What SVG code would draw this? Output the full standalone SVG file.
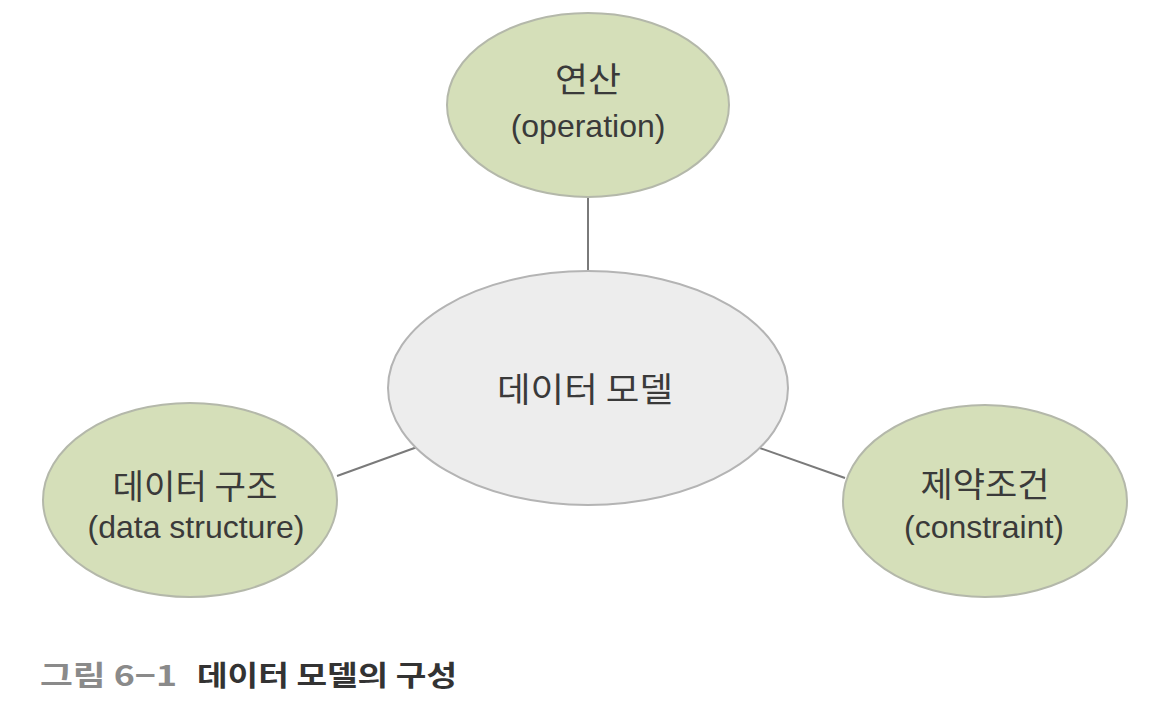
<svg xmlns="http://www.w3.org/2000/svg" width="1158" height="708" viewBox="0 0 1158 708">
<style>
.g{fill:#d5dfb9;stroke:#b4b8aa;stroke-width:2}
.c{fill:#ededed;stroke:#b4b4b4;stroke-width:2}
.t{font-family:"Liberation Sans","Noto Sans CJK KR",sans-serif;font-size:32px;fill:#3a3a3a;text-anchor:middle}
.k{font-family:"Noto Sans CJK KR",sans-serif;font-size:34px;fill:#3a3a3a;text-anchor:middle}
.ln{stroke:#7a7a7a;stroke-width:2;fill:none}
</style>
<rect width="1158" height="708" fill="#ffffff"/>
<g id="connectors">
<line class="ln" x1="588" y1="198" x2="588" y2="271"/>
<line class="ln" x1="337" y1="476" x2="420" y2="446"/>
<line class="ln" x1="757" y1="447" x2="845" y2="478"/>
</g>
<g id="node-operation">
<ellipse class="g" cx="588" cy="105" rx="141" ry="92"/>
<text class="k" x="588" y="92" textLength="66" lengthAdjust="spacingAndGlyphs">연산</text>
<text class="t" x="588" y="137">(operation)</text>
</g>
<g id="node-datamodel">
<ellipse class="c" cx="588" cy="388" rx="200" ry="117"/>
<text class="k" x="585" y="402" textLength="176" lengthAdjust="spacingAndGlyphs">데이터 모델</text>
</g>
<g id="node-structure">
<ellipse class="g" cx="190" cy="500" rx="147" ry="97"/>
<text class="k" x="195" y="499" textLength="165" lengthAdjust="spacingAndGlyphs">데이터 구조</text>
<text class="t" x="196" y="538">(data structure)</text>
</g>
<g id="node-constraint">
<ellipse class="g" cx="985" cy="501" rx="142" ry="96"/>
<text class="k" x="985" y="497" textLength="129" lengthAdjust="spacingAndGlyphs">제약조건</text>
<text class="t" x="984" y="538">(constraint)</text>
</g>
<g id="caption">
<text x="40" y="686" font-family="'Noto Sans CJK KR',sans-serif" font-size="28" font-weight="bold" fill="#8a8a8a" textLength="137" lengthAdjust="spacingAndGlyphs">그림 6−1</text>
<text x="197" y="686" font-family="'Noto Sans CJK KR',sans-serif" font-size="28" font-weight="bold" fill="#333333" textLength="260" lengthAdjust="spacingAndGlyphs">데이터 모델의 구성</text>
</g>
</svg>
